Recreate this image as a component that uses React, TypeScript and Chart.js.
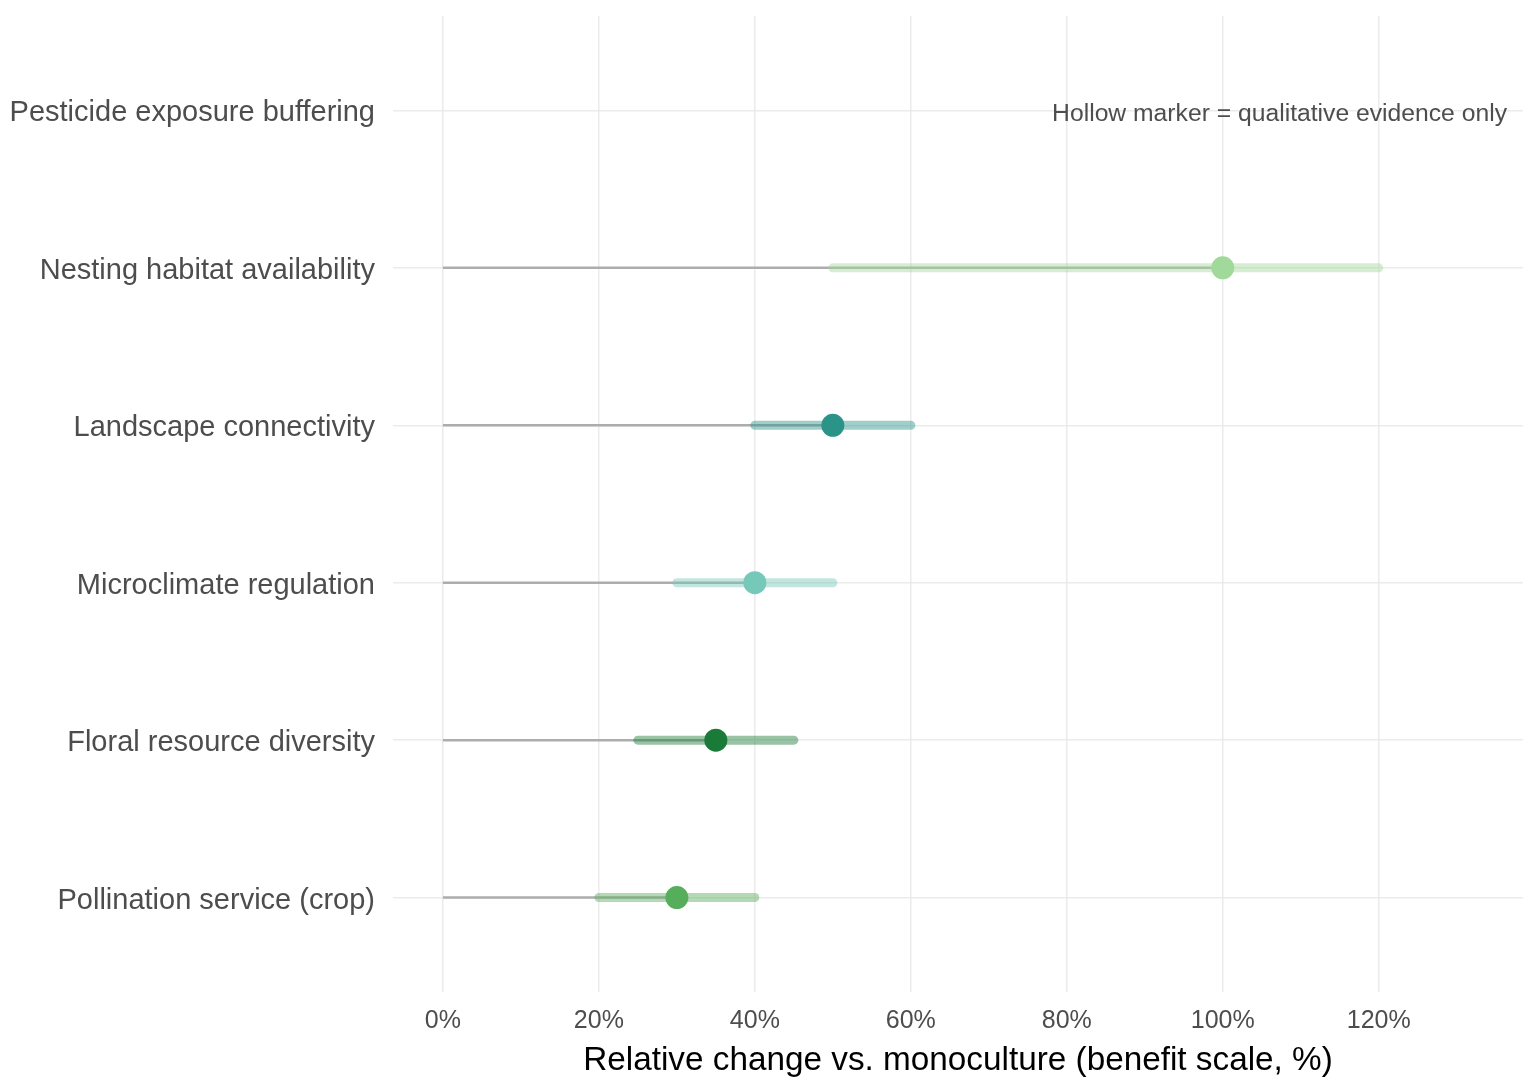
import React, { useEffect, useRef } from "react";
import { Chart, registerables } from "chart.js";

Chart.register(...registerables);

const categories = [
  "Pollination service (crop)",
  "Floral resource diversity",
  "Microclimate regulation",
  "Landscape connectivity",
  "Nesting habitat availability",
  "Pesticide exposure buffering",
];
const estimates: (number | null)[] = [30, 35, 40, 50, 100, null];
const lowerCI: (number | null)[] = [20, 25, 30, 40, 50, null];
const upperCI: (number | null)[] = [40, 45, 50, 60, 120, null];
const pointColors = ["#56ad5c", "#1a7a38", "#76c8b9", "#2b9489", "#a1d99b", "#cccccc"];
const xTicks = [0, 20, 40, 60, 80, 100, 120];
const annotationText = "Hollow marker = qualitative evidence only";
const xTitle = "Relative change vs. monoculture (benefit scale, %)";

const FONT = "'Liberation Sans', Arial, Helvetica, sans-serif";

function hexToRgba(hex: string, a: number) {
  const n = parseInt(hex.slice(1), 16);
  return `rgba(${(n >> 16) & 255}, ${(n >> 8) & 255}, ${n & 255}, ${a})`;
}

export default function App() {
  const ref = useRef<HTMLCanvasElement | null>(null);

  useEffect(() => {
    if (!ref.current) return;
    const datasets: any[] = [];
    categories.forEach((cat, i) => {
      const y = i + 1;
      const est = estimates[i];
      const lo = lowerCI[i];
      const hi = upperCI[i];
      if (est == null || lo == null || hi == null) return;
      datasets.push({
        label: cat + " stem",
        data: [{ x: 0, y }, { x: est, y }],
        showLine: true,
        borderColor: "#adadad",
        borderWidth: 2.5,
        pointRadius: 0,
        order: 3,
      });
      datasets.push({
        label: cat + " CI",
        data: [{ x: lo, y }, { x: hi, y }],
        showLine: true,
        borderColor: hexToRgba(pointColors[i], 0.45),
        borderWidth: 9,
        borderCapStyle: "round",
        pointRadius: 0,
        order: 2,
      });
      datasets.push({
        label: cat,
        data: [{ x: est, y }],
        showLine: false,
        pointRadius: 11.5,
        pointStyle: "circle",
        pointBackgroundColor: pointColors[i],
        pointBorderColor: pointColors[i],
        pointBorderWidth: 0,
        order: 1,
      });
    });

    const annotationPlugin = {
      id: "annot",
      afterDatasetsDraw(chart: any) {
        const { ctx, chartArea, scales } = chart;
        ctx.save();
        ctx.font = `24.7px ${FONT}`;
        ctx.fillStyle = "#4d4d4d";
        ctx.textAlign = "right";
        ctx.textBaseline = "middle";
        ctx.fillText(annotationText, chartArea.right - 16, scales.y.getPixelForValue(6) + 4);
        ctx.restore();
      },
    };

    const chart = new Chart(ref.current, {
      type: "scatter",
      data: { datasets },
      plugins: [annotationPlugin],
      options: {
        animation: false,
        responsive: true,
        maintainAspectRatio: false,
        layout: { padding: { top: 16, right: 12, left: 0, bottom: 0 } },
        plugins: { legend: { display: false }, tooltip: { enabled: false } },
        scales: {
          x: {
            type: "linear",
            min: -6.4,
            max: 138.5,
            afterBuildTicks: (scale: any) => {
              scale.ticks = xTicks.map((v) => ({ value: v }));
            },
            afterFit: (scale: any) => {
              scale.height = 99;
              scale.paddingLeft = 0;
              scale.paddingRight = 0;
            },
            border: { display: false },
            grid: { color: "#ebebeb", lineWidth: 1.5, drawTicks: false },
            ticks: {
              padding: 14,
              color: "#4d4d4d",
              font: { family: FONT, size: 25 },
              callback: (v: any) => `${v}%`,
            },
            title: {
              display: true,
              text: xTitle,
              color: "#000000",
              font: { family: FONT, size: 33.3 },
              padding: { top: 0, bottom: 10 },
            },
          },
          y: {
            type: "linear",
            min: 0.4,
            max: 6.6,
            afterBuildTicks: (scale: any) => {
              scale.ticks = categories.map((_, i) => ({ value: i + 1 }));
            },
            afterFit: (scale: any) => {
              scale.width = 393;
              scale.paddingTop = 0;
              scale.paddingBottom = 0;
            },
            border: { display: false },
            grid: { color: "#ebebeb", lineWidth: 1.5, drawTicks: false },
            ticks: {
              padding: 18,
              labelOffset: 3,
              color: "#4d4d4d",
              font: { family: FONT, size: 29 },
              callback: (v: any) => categories[Math.round(v) - 1] ?? "",
            },
          },
        },
      },
    });
    return () => chart.destroy();
  }, []);

  return (
    <div style={{ position: "absolute", left: 0, top: 0, width: 1535, height: 1091, background: "#ffffff" }}>
      <canvas ref={ref} />
    </div>
  );
}
